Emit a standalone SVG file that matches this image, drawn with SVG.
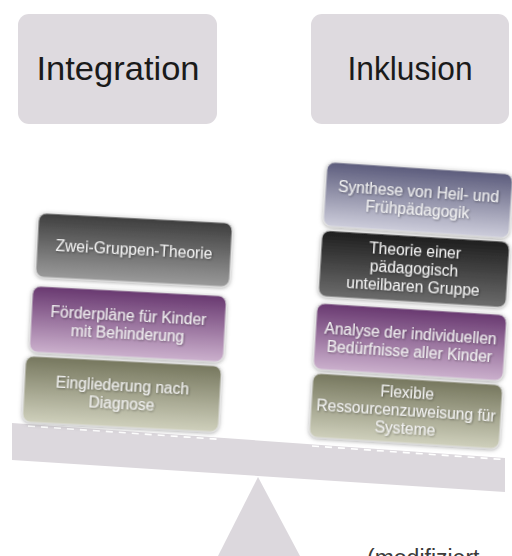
<svg xmlns="http://www.w3.org/2000/svg" width="512" height="556" viewBox="0 0 512 556">
<defs>
<linearGradient id="gDark" x1="0" y1="0" x2="0" y2="1"><stop offset="0" stop-color="#3e3e3e"/><stop offset="1" stop-color="#9a9a9a"/></linearGradient>
<linearGradient id="gBlack" x1="0" y1="0" x2="0" y2="1"><stop offset="0" stop-color="#1e1e1e"/><stop offset="1" stop-color="#6c6c6c"/></linearGradient>
<linearGradient id="gPurple" x1="0" y1="0" x2="0" y2="1"><stop offset="0" stop-color="#683870"/><stop offset="1" stop-color="#cbb0cd"/></linearGradient>
<linearGradient id="gOlive" x1="0" y1="0" x2="0" y2="1"><stop offset="0" stop-color="#76775e"/><stop offset="1" stop-color="#cfd0bc"/></linearGradient>
<linearGradient id="gSlate" x1="0" y1="0" x2="0" y2="1"><stop offset="0" stop-color="#5c5c7c"/><stop offset="1" stop-color="#cdcddb"/></linearGradient>
<filter id="soft" x="-10%" y="-20%" width="120%" height="140%">
<feGaussianBlur in="SourceAlpha" stdDeviation="2"/>
<feOffset dx="0" dy="1" result="b"/>
<feFlood flood-color="#555" flood-opacity="0.55"/>
<feComposite in2="b" operator="in" result="sh"/>
<feMerge><feMergeNode in="sh"/><feMergeNode in="SourceGraphic"/></feMerge>
</filter>
<filter id="tshadow" x="-5%" y="-20%" width="110%" height="140%">
<feGaussianBlur in="SourceAlpha" stdDeviation="0.8"/>
<feOffset dx="0.5" dy="0.8" result="b"/>
<feFlood flood-color="#000" flood-opacity="0.4"/>
<feComposite in2="b" operator="in" result="sh"/>
<feMerge><feMergeNode in="sh"/><feMergeNode in="SourceGraphic"/></feMerge>
</filter>
</defs>
<style>
.hdr{fill:#dedadf}
.htxt{font-family:"Liberation Sans",Arial,sans-serif;font-size:34px;fill:#1a1a1a;text-anchor:middle}
.box{stroke:#e6e6e6;stroke-width:1.2;stroke-opacity:0.7}
.btxt{font-family:"Liberation Sans",Arial,sans-serif;font-size:15.6px;fill:#f0f0f0;text-anchor:middle}
.scale{fill:#dcd8dd}
.dash{stroke:#ffffff;stroke-width:1.6;stroke-dasharray:7 6;fill:none}
.note{font-family:"Liberation Sans",Arial,sans-serif;font-size:23px;fill:#3a3a3a}
</style>

<g id="header-integration">
<rect class="hdr" x="18" y="14" width="199" height="110" rx="11"/>
<text class="htxt" x="118" y="80" textLength="163" lengthAdjust="spacingAndGlyphs">Integration</text>
</g>
<g id="header-inklusion">
<rect class="hdr" x="311" y="14" width="198" height="110" rx="11"/>
<text class="htxt" x="410" y="80" textLength="125" lengthAdjust="spacingAndGlyphs">Inklusion</text>
</g>

<g id="connectors">
<polygon id="fulcrum" class="scale" points="258,477 218,556 300,556"/>
<polygon id="beam" class="scale" points="12,423 505,458 505,492 12,460"/>
<line class="dash" x1="28" y1="426" x2="222" y2="439.5"/>
<line class="dash" x1="312" y1="446" x2="503" y2="459.5"/>
</g>

<g id="left-1" transform="translate(134,250) rotate(3)">
<rect class="box" x="-97" y="-32" width="194" height="64" rx="8" fill="url(#gDark)" filter="url(#soft)"/>
<text class="btxt" filter="url(#tshadow)" x="0" y="5">Zwei-Gruppen-Theorie</text>
</g>
<g id="left-2" transform="translate(128,324) rotate(3)">
<rect class="box" x="-97" y="-33" width="194" height="66" rx="8" fill="url(#gPurple)" filter="url(#soft)"/>
<text class="btxt" filter="url(#tshadow)" x="0" y="-3">Förderpläne für Kinder</text>
<text class="btxt" filter="url(#tshadow)" x="0" y="15">mit Behinderung</text>
</g>
<g id="left-3" transform="translate(122,394) rotate(3)">
<rect class="box" x="-98" y="-33" width="196" height="66" rx="8" fill="url(#gOlive)" filter="url(#soft)"/>
<text class="btxt" filter="url(#tshadow)" x="0" y="-3">Eingliederung nach</text>
<text class="btxt" filter="url(#tshadow)" x="0" y="15">Diagnose</text>
</g>

<g id="right-1" transform="translate(418,200) rotate(3.8)">
<rect class="box" x="-93" y="-32" width="186" height="64" rx="8" fill="url(#gSlate)" filter="url(#soft)"/>
<text class="btxt" filter="url(#tshadow)" x="0" y="-3">Synthese von Heil- und</text>
<text class="btxt" filter="url(#tshadow)" x="0" y="15">Frühpädagogik</text>
</g>
<g id="right-2" transform="translate(414,269) rotate(3.5)">
<rect class="box" x="-94" y="-33" width="188" height="66" rx="8" fill="url(#gBlack)" filter="url(#soft)"/>
<text class="btxt" filter="url(#tshadow)" x="0" y="-13">Theorie einer</text>
<text class="btxt" filter="url(#tshadow)" x="0" y="5">pädagogisch</text>
<text class="btxt" filter="url(#tshadow)" x="0" y="23">unteilbaren Gruppe</text>
</g>
<g id="right-3" transform="translate(410,342) rotate(3.6)">
<rect class="box" x="-95" y="-33" width="190" height="66" rx="8" fill="url(#gPurple)" filter="url(#soft)"/>
<text class="btxt" filter="url(#tshadow)" x="0" y="-3">Analyse der individuellen</text>
<text class="btxt" filter="url(#tshadow)" x="0" y="15">Bedürfnisse aller Kinder</text>
</g>
<g id="right-4" transform="translate(406,411) rotate(3.6)">
<rect class="box" x="-95" y="-32" width="190" height="64" rx="8" fill="url(#gOlive)" filter="url(#soft)"/>
<text class="btxt" filter="url(#tshadow)" x="0" y="-13">Flexible</text>
<text class="btxt" filter="url(#tshadow)" x="0" y="5">Ressourcenzuweisung für</text>
<text class="btxt" filter="url(#tshadow)" x="0" y="23">Systeme</text>
</g>

<text class="note" x="367" y="566">(modifiziert</text>
</svg>
